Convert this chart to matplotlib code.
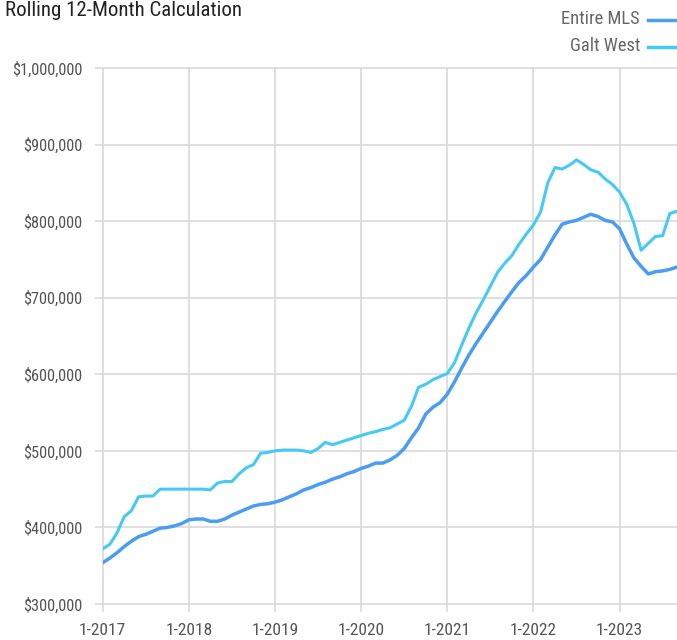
import matplotlib
matplotlib.use("Agg")
import matplotlib.pyplot as plt
from matplotlib import font_manager
from matplotlib.ticker import FuncFormatter

# Monthly values, Jan 2017 .. Sep 2023 (rolling 12-month average sale price)
months = [f"{m}-{y}" for y in range(2017, 2024) for m in range(1, 13)][:81]

entire_mls = [
    354, 360, 367, 375, 382, 388, 391, 395, 399, 400, 402, 405,  # 2017
    410, 411, 411, 408, 408, 411, 416, 420, 424, 428, 430, 431,  # 2018
    433, 436, 440, 444, 449, 452, 456, 459, 463, 466, 470, 473,  # 2019
    477, 480, 484, 484, 488, 494, 503, 517, 530, 548, 557, 563,  # 2020
    574, 590, 608, 625, 640, 654, 668, 682, 695, 708, 720, 729,  # 2021
    740, 750, 766, 782, 796, 799, 801, 805, 809, 806, 801, 799,  # 2022
    790, 770, 752, 741, 731, 734, 735, 737, 740,                 # 2023
]
galt_west = [
    372, 378, 393, 414, 422, 440, 441, 441, 450, 450, 450, 450,  # 2017
    450, 450, 450, 449, 458, 460, 460, 470, 478, 482, 497, 498,  # 2018
    500, 501, 501, 501, 500, 498, 503, 511, 508, 511, 514, 517,  # 2019
    520, 523, 525, 528, 530, 535, 540, 558, 583, 587, 593, 597,  # 2020
    601, 615, 638, 660, 680, 697, 715, 733, 745, 755, 770, 783,  # 2021
    795, 812, 850, 870, 868, 873, 880, 874, 867, 864, 855, 848,  # 2022
    838, 822, 797, 762, 771, 780, 781, 810, 813,                 # 2023
]
tick_labels = ["1-2017", "1-2018", "1-2019", "1-2020", "1-2021", "1-2022", "1-2023"]
y_ticks = [300000, 400000, 500000, 600000, 700000, 800000, 900000, 1000000]

# pick a condensed font if we have one, else shrink the regular one
names = {f.name for f in font_manager.fontManager.ttflist}
narrow = [n for n in ["Liberation Sans Narrow", "Roboto Condensed", "Open Sans Condensed"] if n in names]
if narrow:
    font, scale = narrow[0], 1.0
else:
    font, scale = "Liberation Sans", 0.88
plt.rcParams["font.family"] = [font, "DejaVu Sans"]

grid_col = "#d9d9d9"
fig = plt.figure(figsize=(6.77, 6.4), dpi=100)
ax = fig.add_axes([102.7 / 677, 1 - 604 / 640, (677 - 102.7) / 677, (604 - 68) / 640])

x = list(range(len(months)))
ax.plot(x, [v * 1000 for v in galt_west], color="#45c9f7", lw=2.2, solid_joinstyle="round")
ax.plot(x, [v * 1000 for v in entire_mls], color="#4a9df0", lw=2.5, solid_joinstyle="round")

ax.set_xlim(0, 80)
ax.set_ylim(300000, 1000000)
ax.set_yticks(y_ticks)
ax.yaxis.set_major_formatter(FuncFormatter(lambda v, p: f"${v:,.0f}"))
ax.set_xticks([months.index(t) for t in tick_labels])
ax.set_xticklabels(tick_labels)

for s in ax.spines.values():
    s.set_visible(False)
ax.grid(True, color=grid_col, lw=1.2)
for gl in ax.get_xgridlines() + ax.get_ygridlines():
    gl.set_clip_on(False)
ax.set_axisbelow(True)
ax.tick_params(axis="y", length=5.5, width=1.2, color=grid_col, pad=9,
               labelsize=11.8 * scale, labelcolor="#555555")
ax.tick_params(axis="x", length=6, width=1.2, color=grid_col, pad=8,
               labelsize=12.5 * scale, labelcolor="#555555")

fig.text(5 / 677, 1 - 10 / 640, "Rolling 12-Month Calculation", fontsize=15 * scale, color="#222222",
         ha="left", va="center")

# legend drawn by hand, right aligned at the top
for label, col, ypix in [("Entire MLS", "#4a9df0", 19), ("Galt West", "#45c9f7", 46)]:
    fig.text(640 / 677, 1 - ypix / 640, label, fontsize=13.3 * scale, color="#666666", ha="right", va="center")
    fig.add_artist(plt.Line2D([648 / 677, 1.0], [1 - (ypix + 1) / 640] * 2, color=col, lw=2.5,
                              transform=fig.transFigure))

fig.savefig("out.png", dpi=100)
